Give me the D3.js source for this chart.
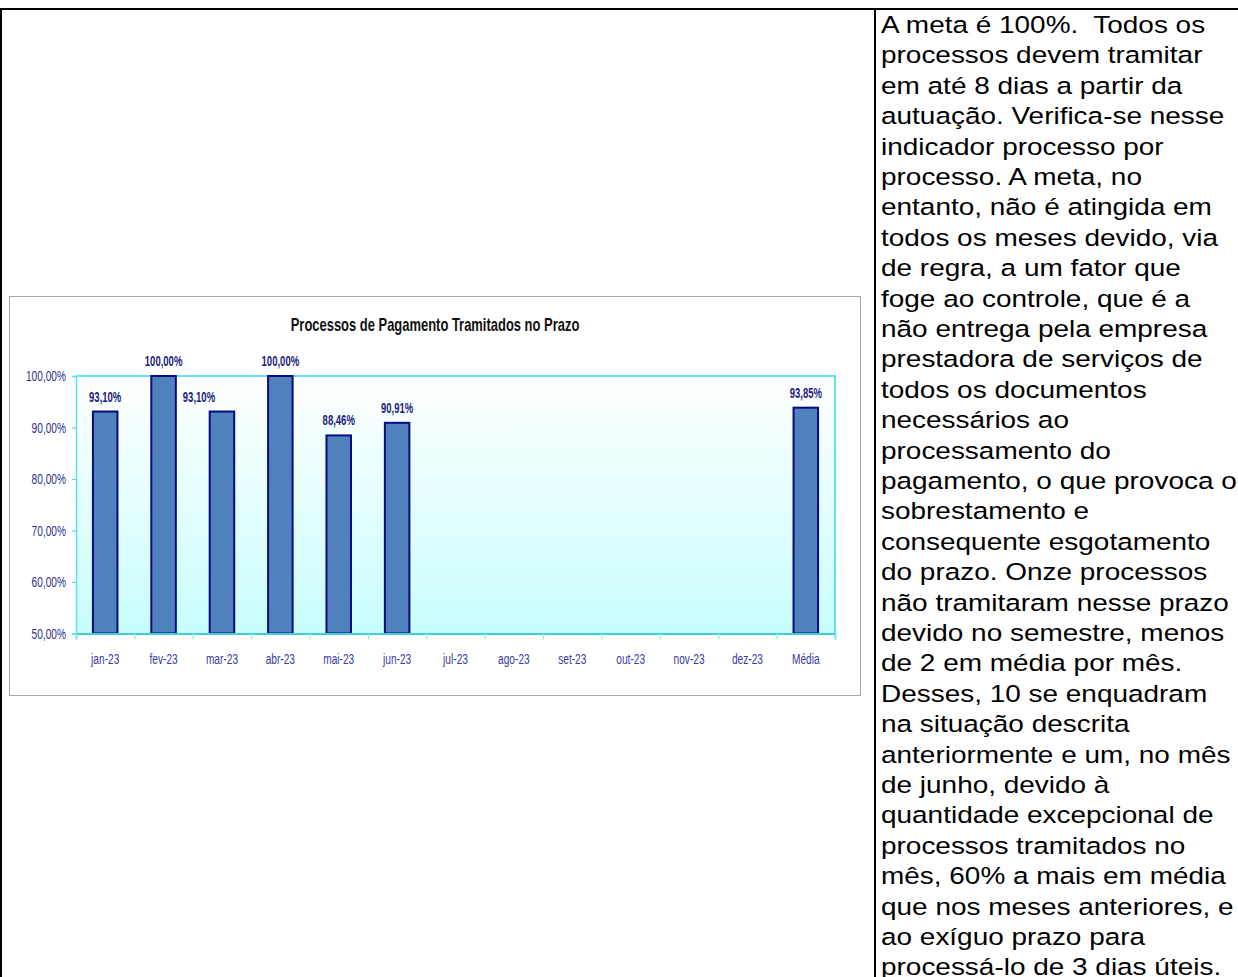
<!DOCTYPE html>
<html>

<head>
  <meta charset="utf-8" />
  <title>Processos de Pagamento Tramitados no Prazo</title>
  <script src="https://d3js.org/d3.v7.min.js"></script>
  <style>
    html, body { margin: 0; padding: 0; background: #fff; }
    svg { display: block; }
    .note text { white-space: pre; }
  </style>
</head>

<body>

  <div id="page"></div>

  <script type="text/javascript">
    // chart data
    var months = ["jan-23", "fev-23", "mar-23", "abr-23", "mai-23", "jun-23", "jul-23", "ago-23", "set-23", "out-23", "nov-23", "dez-23", "Média"]
    var values = [0.9310, 1.0000, 0.9310, 1.0000, 0.8846, 0.9091, null, null, null, null, null, null, 0.9385]
    var yTicks = [0.5, 0.6, 0.7, 0.8, 0.9, 1.0]
    var chartTitle = "Processos de Pagamento Tramitados no Prazo"

    // side text, one entry per printed line
    var noteLines = [
      "A meta é 100%.  Todos os",
      "processos devem tramitar",
      "em até 8 dias a partir da",
      "autuação. Verifica-se nesse",
      "indicador processo por",
      "processo. A meta, no",
      "entanto, não é atingida em",
      "todos os meses devido, via",
      "de regra, a um fator que",
      "foge ao controle, que é a",
      "não entrega pela empresa",
      "prestadora de serviços de",
      "todos os documentos",
      "necessários ao",
      "processamento do",
      "pagamento, o que provoca o",
      "sobrestamento e",
      "consequente esgotamento",
      "do prazo. Onze processos",
      "não tramitaram nesse prazo",
      "devido no semestre, menos",
      "de 2 em média por mês.",
      "Desses, 10 se enquadram",
      "na situação descrita",
      "anteriormente e um, no mês",
      "de junho, devido à",
      "quantidade excepcional de",
      "processos tramitados no",
      "mês, 60% a mais em média",
      "que nos meses anteriores, e",
      "ao exíguo prazo para",
      "processá-lo de 3 dias úteis."
    ]

    var W = 1238, H = 977
    var ptBR = d3.formatLocale({ decimal: ",", thousands: ".", grouping: [3], currency: ["R$", ""] })
    var pct = ptBR.format(".2%")

    var svg = d3.select("#page").append("svg")
      .attr("width", W).attr("height", H)
      .style("font-family", "'Liberation Sans', Arial, sans-serif")

    // table borders
    svg.append("rect").attr("x", 0).attr("y", 0).attr("width", W).attr("height", H).attr("fill", "#fff")
    svg.append("line").attr("x1", 0).attr("x2", W).attr("y1", 9).attr("y2", 9)
      .attr("stroke", "#000").attr("stroke-width", 2)
    svg.append("line").attr("x1", 1).attr("x2", 1).attr("y1", 8).attr("y2", H)
      .attr("stroke", "#000").attr("stroke-width", 2)
    svg.append("line").attr("x1", 875).attr("x2", 875).attr("y1", 8).attr("y2", H)
      .attr("stroke", "#000").attr("stroke-width", 2)

    // note text, stretched wide like the source document
    svg.append("g")
      .attr("class", "note")
      .attr("transform", "translate(881,0) scale(1.2,1)")
      .selectAll("text")
      .data(noteLines)
      .join("text")
      .attr("x", 0)
      .attr("y", (d, i) => 33 + i * 30.4)
      .attr("font-size", 23.3)
      .attr("fill", "#000")
      .text(d => d)

    // chart frame
    svg.append("rect")
      .attr("x", 9.5).attr("y", 296.5).attr("width", 851).attr("height", 399)
      .attr("fill", "#fff").attr("stroke", "#a6a6a6").attr("stroke-width", 1)

    var plot = { left: 76, right: 835, top: 376, bottom: 633.5 }

    var x = d3.scaleBand()
      .domain(months)
      .range([plot.left, plot.right])
      .paddingInner(0.58)
      .paddingOuter(0.29)
    var xEdge = d3.scaleLinear().domain([0, months.length]).range([plot.left, plot.right])
    var y = d3.scaleLinear().domain([0.5, 1]).range([plot.bottom, plot.top])

    var defs = svg.append("defs")
    var grad = defs.append("linearGradient").attr("id", "bg").attr("x1", 0).attr("x2", 0).attr("y1", 0).attr("y2", 1)
    grad.append("stop").attr("offset", "0%").attr("stop-color", "#ffffff")
    grad.append("stop").attr("offset", "100%").attr("stop-color", "#c8fdfd")

    svg.append("rect")
      .attr("x", plot.left).attr("y", plot.top)
      .attr("width", plot.right - plot.left).attr("height", plot.bottom - plot.top)
      .attr("fill", "url(#bg)")
    // top and right plot border
    svg.append("path")
      .attr("d", "M" + plot.left + "," + plot.top + "H" + plot.right + "V" + plot.bottom)
      .attr("fill", "none").attr("stroke", "#33d6f5").attr("stroke-width", 1.5)

    // bars
    var navy = "#0a0a80"
    var barData = months.map((m, i) => ({ m: m, v: values[i] })).filter(d => d.v != null)
    svg.append("g").selectAll("rect")
      .data(barData)
      .join("rect")
      .attr("x", d => x(d.m))
      .attr("y", d => y(d.v))
      .attr("width", x.bandwidth())
      .attr("height", d => y(0.5) - y(d.v))
      .attr("fill", "#4f81bd")
      .attr("stroke", navy)
      .attr("stroke-width", 2)

    // value labels (Excel nudged the March label left)
    var nudge = { "mar-23": -23 }
    svg.append("g").selectAll("g")
      .data(barData)
      .join("g")
      .attr("transform", d => "translate(" + (x(d.m) + x.bandwidth() / 2 + (nudge[d.m] || 0)) + "," + (y(d.v) - 10) + ") scale(0.68,1)")
      .append("text")
      .attr("text-anchor", "middle")
      .attr("font-size", 14)
      .attr("font-weight", "bold")
      .attr("fill", "#1c1c7c")
      .text(d => pct(d.v))

    // y axis
    var yAxis = svg.append("g")
      .attr("transform", "translate(" + plot.left + ",0)")
      .call(d3.axisLeft(y).tickValues(yTicks).tickFormat(pct).tickSize(4).tickPadding(10.3))
    yAxis.select(".domain").attr("stroke", "#5fdde6").attr("stroke-width", 1.5)
    yAxis.selectAll(".tick line").attr("stroke", "#5fdde6").attr("stroke-width", 1.2)
    yAxis.selectAll("text")
      .attr("transform", "scale(0.7,1)")
      .attr("font-size", 14.5)
      .attr("font-family", "'Liberation Sans', Arial, sans-serif")
      .attr("fill", "#2e2e8e")

    // x axis: tick marks at category edges, labels centred
    var xTicks = svg.append("g")
      .attr("transform", "translate(0," + plot.bottom + ")")
      .call(d3.axisBottom(xEdge).tickValues(d3.range(months.length + 1)).tickSize(6).tickFormat(""))
    xTicks.select(".domain").attr("stroke", "#3cd0d8").attr("stroke-width", 1.8)
    xTicks.selectAll(".tick line").attr("stroke", "#8ee8ee").attr("stroke-width", 1.2)

    svg.append("g").selectAll("g")
      .data(months)
      .join("g")
      .attr("transform", d => "translate(" + (x(d) + x.bandwidth() / 2) + "," + (plot.bottom + 30) + ") scale(0.7,1)")
      .append("text")
      .attr("text-anchor", "middle")
      .attr("font-size", 14.5)
      .attr("fill", "#3a3aa0")
      .text(d => d)

    // title
    svg.append("g")
      .attr("transform", "translate(435,331) scale(0.72,1)")
      .append("text")
      .attr("text-anchor", "middle")
      .attr("font-size", 18)
      .attr("font-weight", "bold")
      .attr("fill", "#111")
      .text(chartTitle)
  </script>

</body>

</html>
